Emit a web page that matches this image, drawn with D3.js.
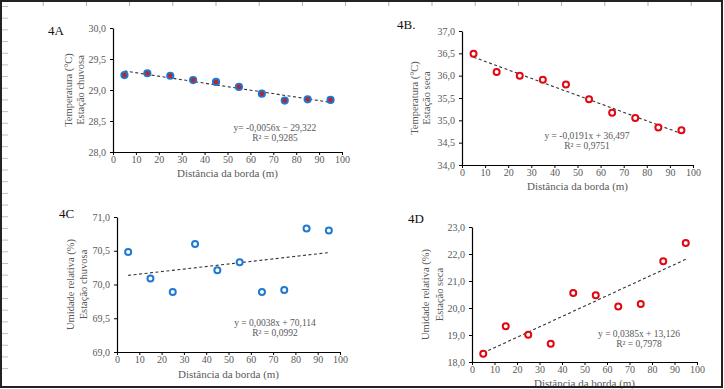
<!DOCTYPE html>
<html>
<head>
<meta charset="utf-8">
<script src="https://cdn.jsdelivr.net/npm/d3@7"></script>
<style>
  body { margin: 0; background: #fff; }
  svg text { font-family: "Liberation Serif", "DejaVu Serif", serif; }
</style>
</head>
<body>
<svg id="chart" width="724" height="389"></svg>
<script>
// Dados
let distancias = [5, 15, 25, 35, 45, 55, 65, 75, 85, 95];
let tempChuvosa = [29.24, 29.27, 29.23, 29.16, 29.13, 29.05, 28.94, 28.83, 28.85, 28.84];
let tempSeca = [36.49, 36.08, 36.00, 35.91, 35.80, 35.47, 35.17, 35.05, 34.84, 34.78];
let urChuvosa = [70.48, 70.09, 69.89, 70.60, 70.21, 70.33, 69.89, 69.92, 70.83, 70.80];
let urSeca = [18.31, 19.32, 19.01, 18.68, 20.56, 20.47, 20.06, 20.15, 21.73, 22.41];

let xTicks = [0, 10, 20, 30, 40, 50, 60, 70, 80, 90, 100];
let ticksA = [28.0, 28.5, 29.0, 29.5, 30.0];
let ticksB = [34.0, 34.5, 35.0, 35.5, 36.0, 36.5, 37.0];
let ticksC = [69.0, 69.5, 70.0, 70.5, 71.0];
let ticksD = [18, 19, 20, 21, 22, 23];

let equacoes = [
    ['y= -0,0056x − 29,322', 'R² = 0,9285'],
    ['y = -0,0191x + 36,497', 'R² = 0,9751'],
    ['y = 0,0038x + 70,114', 'R² = 0,0992'],
    ['y = 0,0385x + 13,126', 'R² = 0,7978']
];

let svg = d3.select('#chart');
let cinza = '#595959';
let fmt = function(d) { return d3.format('.1f')(d).replace('.', ','); };

// Moldura de página com régua
let frame = svg.append('g');
frame.selectAll('.rt').data(d3.range(1, 17)).enter().append('line')
    .attr('x1', d => d * 43.2).attr('x2', d => d * 43.2)
    .attr('y1', 2).attr('y2', 6)
    .attr('stroke', '#b0b0b0').attr('stroke-width', 1);
frame.selectAll('.rl').data(d3.range(0, 32)).enter().append('line')
    .attr('x1', 2).attr('x2', 8)
    .attr('y1', d => 6.5 + d * 11.68).attr('y2', d => 6.5 + d * 11.68)
    .attr('stroke', '#c0c0c0').attr('stroke-width', 1);

// Configuração de cada painel
let paineis = [
    {id: '4A', dados: tempChuvosa, ticks: ticksA, dom: [28, 30],
     box: [113, 342, 28, 152], tag: [48, 35],
     ytit: ['Temperatura (°C)', 'Estação chuvosa'], ytx: [68, 80],
     xtitY: 177, eq: [275, 131], marker: 'filled'},
    {id: '4B.', dados: tempSeca, ticks: ticksB, dom: [34, 37],
     box: [462, 693, 31, 165], tag: [397, 29],
     ytit: ['Temperatura (°C)', 'Estação  seca'], ytx: [414, 426],
     xtitY: 190, eq: [587, 139], marker: 'red'},
    {id: '4C', dados: urChuvosa, ticks: ticksC, dom: [69, 71],
     box: [117, 340, 217, 352], tag: [59, 218],
     ytit: ['Umidade relativa (%)', 'Estação chuvosa'], ytx: [70, 83],
     xtitY: 378, eq: [275, 326], marker: 'blue'},
    {id: '4D', dados: urSeca, ticks: ticksD, dom: [18, 23],
     box: [472, 697, 227, 362], tag: [408, 223],
     ytit: ['Umidade relativa (%)', 'Estação seca'], ytx: [425, 439],
     xtitY: 387, eq: [639, 337], marker: 'red'}
];

paineis.forEach(function(p, k) {
    let g = svg.append('g');
    let x = d3.scaleLinear().domain([0, 100]).range([p.box[0], p.box[1]]);
    let y = d3.scaleLinear().domain(p.dom).range([p.box[3], p.box[2]]);

    // Eixo X
    let xAxis = g.append('g')
        .attr('transform', 'translate(0,' + p.box[3] + ')')
        .call(d3.axisBottom(x).tickValues(xTicks).tickSize(3).tickPadding(1).tickSizeOuter(0));
    // Eixo Y
    let yAxis = g.append('g')
        .attr('transform', 'translate(' + p.box[0] + ',0)')
        .call(d3.axisLeft(y).tickValues(p.ticks).tickFormat(fmt).tickSize(3).tickPadding(4).tickSizeOuter(0));
    [xAxis, yAxis].forEach(function(a) {
        a.select('.domain').attr('stroke', '#000').attr('stroke-width', 1.2);
        a.selectAll('.tick line').attr('stroke', '#000');
        a.selectAll('.tick text').attr('fill', cinza)
            .style('font-family', '"Liberation Serif", serif').style('font-size', '10px');
    });

    // Linha de tendência (mínimos quadrados)
    let mx = d3.mean(distancias), my = d3.mean(p.dados);
    let sxy = d3.sum(distancias, (d, i) => (d - mx) * (p.dados[i] - my));
    let sxx = d3.sum(distancias, d => (d - mx) * (d - mx));
    let b = sxy / sxx, a0 = my - b * mx;
    let ext = d3.extent(distancias);
    g.append('line')
        .attr('x1', x(ext[0])).attr('y1', y(a0 + b * ext[0]))
        .attr('x2', x(ext[1])).attr('y2', y(a0 + b * ext[1]))
        .attr('stroke', '#333').attr('stroke-width', 1.1)
        .attr('stroke-dasharray', '3,2.5');

    // Pontos
    let pts = g.selectAll('.pt').data(p.dados).enter().append('circle')
        .attr('cx', (d, i) => x(distancias[i]))
        .attr('cy', d => y(d));
    if (p.marker === 'filled') {
        pts.attr('r', 3.2).attr('fill', '#b4282e').attr('stroke', '#1f78d1').attr('stroke-width', 1.8);
    } else if (p.marker === 'red') {
        pts.attr('r', 3).attr('fill', '#fff').attr('stroke', '#e30613').attr('stroke-width', 2);
    } else {
        pts.attr('r', 3).attr('fill', '#fff').attr('stroke', '#1f78d1').attr('stroke-width', 2);
    }

    // Título do eixo X
    g.append('text')
        .attr('x', (p.box[0] + p.box[1]) / 2).attr('y', p.xtitY)
        .attr('text-anchor', 'middle').attr('fill', cinza)
        .style('font-size', '11px')
        .text('Distância da borda (m)');

    // Título do eixo Y (duas linhas)
    let cy = (p.box[2] + p.box[3]) / 2;
    p.ytit.forEach(function(t, j) {
        g.append('text')
            .attr('transform', 'translate(' + p.ytx[j] + ',' + cy + ') rotate(-90)')
            .attr('dy', '0.35em')
            .attr('text-anchor', 'middle').attr('fill', cinza)
            .style('font-size', '10.5px')
            .text(t);
    });

    // Rótulo do painel
    g.append('text')
        .attr('x', p.tag[0]).attr('y', p.tag[1])
        .attr('fill', '#111').style('font-size', '13px')
        .text(p.id);

    // Equação
    equacoes[k].forEach(function(t, j) {
        g.append('text')
            .attr('x', p.eq[0]).attr('y', p.eq[1] + j * 9.5)
            .attr('text-anchor', 'middle').attr('fill', cinza)
            .style('font-size', '9.5px')
            .text(t);
    });
});

// Borda
svg.append('rect')
    .attr('x', 1).attr('y', 1).attr('width', 721).attr('height', 386)
    .attr('fill', 'none').attr('stroke', '#222').attr('stroke-width', 2);
</script>
</body>
</html>
